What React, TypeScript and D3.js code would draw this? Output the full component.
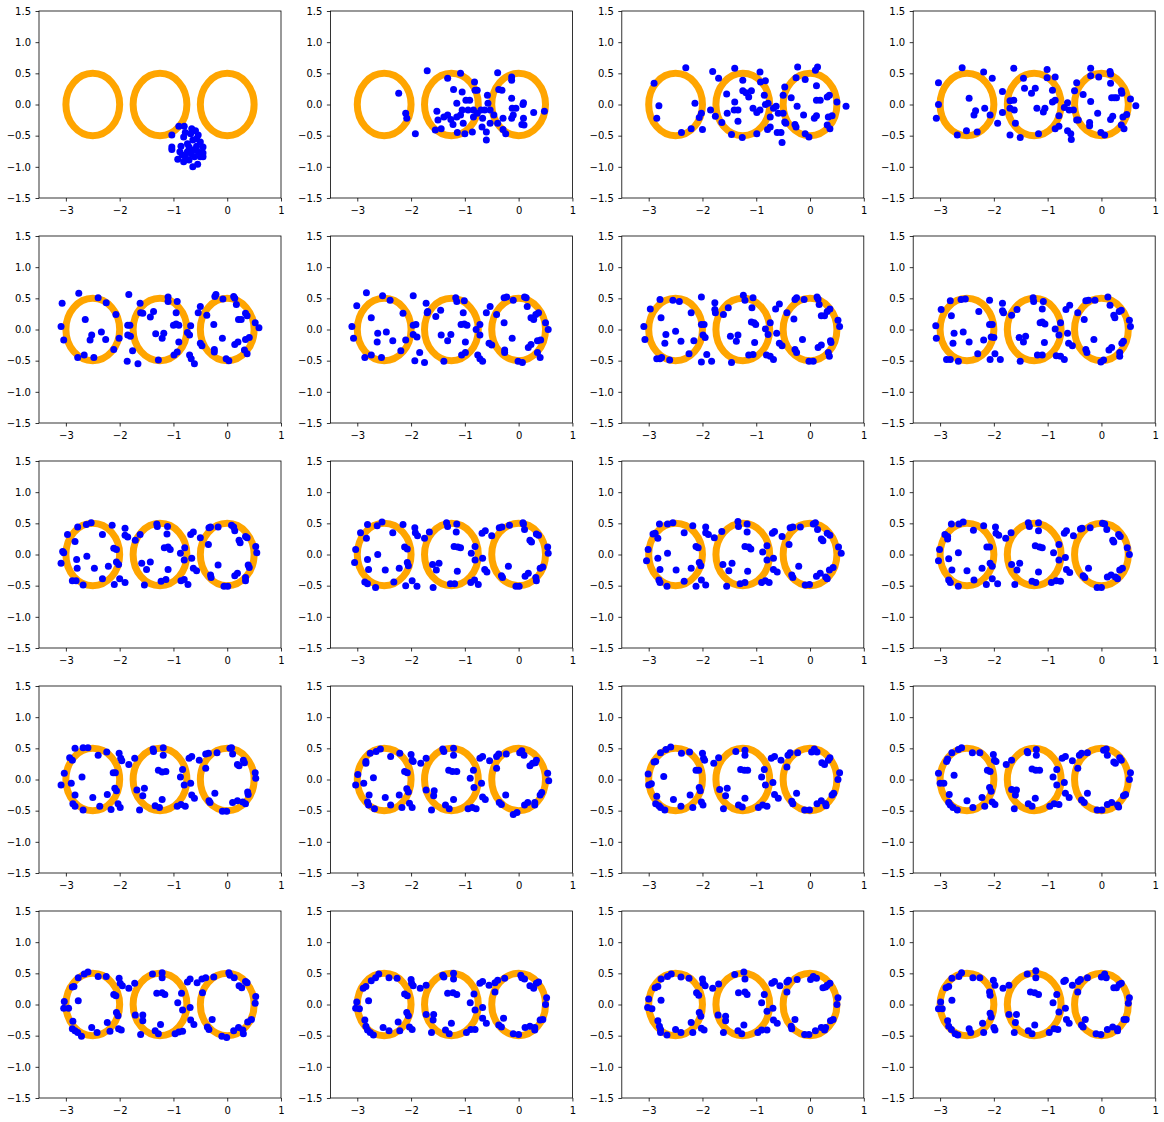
import { useEffect, useRef } from "react";
import * as d3 from "d3";

type Pt = [number, number];

// three target rings (orange) and tick values
const ringCenters = [-2.5, -1.25, 0];
const ringRadius = 0.5;
const xTicks = [-3, -2, -1, 0, 1];
const yTicks = [-1.5, -1.0, -0.5, 0.0, 0.5, 1.0, 1.5];

// blue points, one array per panel
const step01: Pt[] = [
    [-1.03, -0.49], [-1.03, -0.68], [-1.03, -0.72], [-0.9, -0.35], [-0.8, -0.35], [-0.66, -0.39], [-0.59, -0.42],
    [-0.54, -0.49], [-0.81, -0.52], [-0.74, -0.63], [-0.86, -0.67], [-0.64, -0.57], [-0.5, -0.6], [-0.45, -0.68],
    [-0.45, -0.78], [-0.45, -0.84], [-0.54, -0.76], [-0.64, -0.73], [-0.74, -0.76], [-0.84, -0.81], [-0.92, -0.88],
    [-0.81, -0.92], [-0.71, -0.89], [-0.64, -1.0], [-0.55, -0.96], [-0.61, -0.84], [-0.71, -0.68], [-0.57, -0.67],
    [-0.78, -0.45], [-0.68, -0.47], [-0.57, -0.55], [-0.88, -0.76], [-0.78, -0.84], [-0.5, -0.84], [-0.67, -0.79],
];
const step02: Pt[] = [
    [-1.7, 0.54], [-2.23, 0.18], [-2.1, -0.14], [-2.08, -0.22], [-1.92, -0.47], [-1.32, 0.42], [-1.08, 0.5],
    [-1.21, 0.24], [-1.52, -0.11], [-1.5, -0.25], [-1.55, -0.41], [-1.44, -0.39], [-1.39, -0.2], [-1.32, -0.17],
    [-1.26, -0.24], [-1.22, -0.32], [-1.15, -0.2], [-1.15, 0.02], [-1.05, 0.2], [-1.05, -0.09], [-1.08, -0.17],
    [-1.03, -0.3], [-1.14, -0.45], [-1.0, -0.47], [-0.86, -0.44], [-0.98, 0.07], [-0.91, 0.07], [-0.82, 0.36],
    [-0.81, 0.23], [-0.77, 0.23], [-0.94, -0.09], [-0.84, -0.09], [-0.84, -0.2], [-0.77, -0.14], [-0.7, -0.09],
    [-0.63, -0.09], [-0.67, -0.22], [-0.68, -0.36], [-0.6, -0.44], [-0.6, -0.57], [-0.58, 0.15], [-0.57, 0.02],
    [-0.53, -0.09], [-0.46, -0.17], [-0.53, -0.3], [-0.39, -0.3], [-0.39, 0.51], [-0.37, 0.24], [-0.31, 0.23],
    [-0.29, -0.22], [-0.29, -0.4], [-0.24, -0.47], [-0.13, 0.44], [-0.13, 0.39], [-0.13, 0.1], [-0.12, -0.06],
    [-0.05, -0.06], [-0.13, -0.22], [-0.1, -0.17], [0.08, 0.0], [0.09, 0.03], [0.09, -0.22], [0.06, -0.32],
    [0.1, -0.33], [0.28, -0.13], [0.48, -0.11],
];
const step03: Pt[] = [
    [-2.9, 0.34], [-2.81, -0.02], [-2.85, -0.22], [-2.31, 0.59], [-2.39, -0.45], [-2.21, -0.39], [-2.14, 0.02],
    [-2.06, -0.21], [-2.02, -0.14], [-2.0, -0.4], [-1.85, -0.09], [-1.81, 0.53], [-1.76, -0.19], [-1.7, 0.42],
    [-1.64, -0.29], [-1.55, 0.17], [-1.54, -0.14], [-1.46, -0.48], [-1.4, 0.58], [-1.4, 0.04], [-1.41, -0.09],
    [-1.34, -0.09], [-1.34, -0.27], [-1.26, -0.53], [-1.25, 0.39], [-1.25, 0.22], [-1.19, 0.19], [-1.14, 0.12],
    [-1.09, 0.22], [-1.06, -0.06], [-0.99, -0.13], [-0.99, -0.47], [-0.93, 0.52], [-0.92, 0.36], [-0.83, 0.38],
    [-0.93, -0.09], [-0.85, 0.15], [-0.83, 0.0], [-0.78, 0.02], [-0.74, -0.2], [-0.79, -0.4], [-0.74, -0.36],
    [-0.68, -0.06], [-0.63, -0.03], [-0.59, -0.14], [-0.61, -0.45], [-0.54, -0.45], [-0.52, -0.61], [-0.5, 0.15],
    [-0.47, 0.28], [-0.5, -0.14], [-0.47, -0.28], [-0.45, -0.3], [-0.35, 0.11], [-0.26, 0.43], [-0.24, -0.03],
    [-0.28, -0.32], [-0.26, -0.36], [-0.23, 0.6], [-0.09, 0.4], [-0.12, -0.17], [-0.09, -0.47], [-0.02, -0.52],
    [0.08, -0.22], [0.12, -0.18], [0.12, 0.3], [0.1, 0.55], [0.14, 0.6], [0.12, 0.07], [0.19, 0.07], [0.32, 0.12],
    [0.36, 0.15], [0.34, -0.2], [0.41, -0.18], [0.32, -0.33], [0.37, -0.39], [0.5, 0.04], [0.67, -0.03],
];
const step04: Pt[] = [
    [-3.07, -0.22], [-3.03, 0.35], [-3.03, 0.0], [-2.68, -0.49], [-2.59, 0.59], [-2.51, -0.42], [-2.46, 0.1],
    [-2.37, -0.17], [-2.34, -0.1], [-2.31, -0.44], [-2.19, 0.52], [-2.17, -0.06], [-2.07, -0.17], [-2.03, 0.42],
    [-1.93, -0.3], [-1.84, 0.21], [-1.84, -0.13], [-1.7, -0.49], [-1.7, 0.06], [-1.63, 0.07], [-1.7, -0.06],
    [-1.62, -0.09], [-1.63, 0.58], [-1.6, -0.3], [-1.51, -0.53], [-1.45, 0.42], [-1.43, 0.26], [-1.3, 0.18],
    [-1.23, 0.26], [-1.2, -0.06], [-1.17, -0.47], [-1.08, -0.12], [-1.05, -0.06], [-1.01, 0.56], [-1.01, 0.43],
    [-0.91, 0.23], [-0.91, 0.04], [-0.86, 0.07], [-0.86, 0.44], [-0.86, -0.39], [-0.79, -0.35], [-0.79, -0.18],
    [-0.69, -0.05], [-0.63, 0.03], [-0.6, -0.09], [-0.63, -0.42], [-0.57, -0.47], [-0.56, -0.56], [-0.52, -0.09],
    [-0.5, 0.22], [-0.46, 0.35], [-0.46, -0.25], [-0.43, -0.25], [-0.34, 0.16], [-0.22, -0.34], [-0.22, -0.29],
    [-0.2, 0.46], [-0.2, 0.58], [-0.2, 0.05], [-0.07, -0.14], [-0.05, 0.44], [-0.01, -0.45], [0.06, -0.49],
    [0.16, 0.53], [0.17, 0.49], [0.17, 0.34], [0.19, 0.11], [0.24, 0.11], [0.28, 0.11], [0.17, -0.24],
    [0.21, -0.19], [0.37, 0.22], [0.38, 0.18], [0.37, -0.33], [0.42, -0.39], [0.4, -0.2], [0.47, -0.16],
    [0.54, 0.09], [0.64, -0.02],
];
const step05: Pt[] = [
    [-3.07, 0.42], [-3.09, 0.05], [-3.04, -0.17], [-2.76, 0.58], [-2.78, -0.45], [-2.66, -0.41], [-2.64, 0.16],
    [-2.55, -0.17], [-2.52, -0.09], [-2.48, -0.45], [-2.4, 0.51], [-2.34, -0.04], [-2.26, -0.16], [-2.25, 0.43],
    [-2.11, -0.32], [-2.07, 0.24], [-2.01, -0.14], [-1.86, -0.51], [-1.85, 0.07], [-1.81, 0.07], [-1.85, -0.09],
    [-1.8, -0.11], [-1.83, 0.56], [-1.76, -0.34], [-1.66, -0.55], [-1.62, 0.42], [-1.61, 0.27], [-1.57, 0.26],
    [-1.43, 0.2], [-1.37, 0.29], [-1.33, -0.07], [-1.28, -0.49], [-1.21, -0.14], [-1.18, -0.06], [-1.1, 0.52],
    [-1.1, 0.45], [-1.0, 0.07], [-0.95, 0.09], [-0.9, 0.07], [-0.95, 0.27], [-0.93, 0.45], [-0.99, -0.41],
    [-0.93, -0.36], [-0.9, -0.2], [-0.74, -0.05], [-0.7, -0.09], [-0.68, 0.06], [-0.7, -0.41], [-0.67, -0.47],
    [-0.61, -0.55], [-0.54, 0.27], [-0.5, 0.37], [-0.5, -0.22], [-0.47, -0.26], [-0.38, 0.23], [-0.25, 0.08],
    [-0.24, -0.32], [-0.24, -0.36], [-0.23, 0.53], [-0.21, 0.56], [-0.09, -0.14], [-0.08, 0.49], [-0.02, -0.47],
    [0.03, -0.5], [0.12, 0.53], [0.14, 0.5], [0.17, 0.4], [0.14, -0.24], [0.2, -0.2], [0.21, 0.16], [0.26, 0.16],
    [0.34, 0.26], [0.37, 0.22], [0.34, -0.16], [0.41, -0.13], [0.32, -0.33], [0.37, -0.39], [0.52, 0.11],
    [0.59, 0.03],
];
const step06: Pt[] = [
    [-3.1, 0.05], [-3.07, -0.14], [-3.01, 0.38], [-2.86, -0.45], [-2.83, 0.59], [-2.74, 0.19], [-2.74, -0.41],
    [-2.63, -0.2], [-2.62, -0.06], [-2.55, -0.45], [-2.53, 0.54], [-2.46, -0.04], [-2.39, 0.47], [-2.34, -0.18],
    [-2.19, -0.34], [-2.15, 0.26], [-2.1, -0.17], [-1.96, 0.54], [-1.96, 0.07], [-1.91, 0.08], [-1.96, -0.08],
    [-1.89, -0.12], [-1.93, -0.5], [-1.84, -0.37], [-1.75, -0.53], [-1.72, 0.42], [-1.7, 0.27], [-1.69, 0.29],
    [-1.54, 0.21], [-1.45, 0.31], [-1.44, -0.09], [-1.39, -0.51], [-1.32, -0.18], [-1.26, -0.08], [-1.17, 0.51],
    [-1.15, 0.45], [-1.07, 0.08], [-1.01, 0.09], [-0.96, 0.07], [-1.03, 0.27], [-1.01, 0.46], [-1.06, -0.41],
    [-0.99, -0.37], [-0.99, -0.2], [-0.79, 0.0], [-0.72, 0.08], [-0.72, -0.09], [-0.76, -0.41], [-0.72, -0.47],
    [-0.67, -0.51], [-0.6, 0.27], [-0.53, 0.37], [-0.55, -0.22], [-0.5, -0.25], [-0.41, 0.24], [-0.27, 0.11],
    [-0.26, -0.33], [-0.26, -0.37], [-0.27, 0.51], [-0.22, 0.52], [-0.12, -0.14], [-0.1, 0.47], [-0.01, -0.51],
    [0.07, -0.53], [0.11, 0.52], [0.14, 0.51], [0.16, 0.37], [0.18, -0.29], [0.23, -0.24], [0.23, 0.19],
    [0.28, 0.16], [0.32, 0.24], [0.37, 0.27], [0.35, -0.18], [0.41, -0.17], [0.35, -0.37], [0.4, -0.45],
    [0.5, 0.11], [0.55, 0.0],
];
const step07: Pt[] = [
    [-3.09, 0.05], [-3.07, -0.16], [-2.97, 0.33], [-2.85, -0.47], [-2.79, -0.47], [-2.76, -0.45], [-2.79, 0.48],
    [-2.77, 0.19], [-2.7, -0.22], [-2.68, -0.08], [-2.61, -0.49], [-2.55, 0.47], [-2.5, -0.03], [-2.43, 0.45],
    [-2.4, -0.19], [-2.25, -0.39], [-2.21, 0.27], [-2.16, -0.18], [-2.02, 0.52], [-2.02, 0.08], [-1.97, 0.08],
    [-2.02, -0.52], [-1.99, -0.09], [-1.95, -0.13], [-1.92, -0.4], [-1.83, -0.51], [-1.77, 0.43], [-1.77, 0.32],
    [-1.76, 0.27], [-1.61, 0.24], [-1.52, 0.35], [-1.48, -0.11], [-1.46, -0.53], [-1.37, -0.19], [-1.34, -0.09],
    [-1.24, 0.55], [-1.21, 0.47], [-1.09, 0.12], [-1.04, 0.11], [-1.01, 0.08], [-1.08, 0.35], [-1.06, 0.51],
    [-1.14, -0.41], [-1.06, -0.4], [-1.03, -0.21], [-0.83, 0.01], [-0.74, 0.11], [-0.78, -0.08], [-0.81, -0.41],
    [-0.74, -0.43], [-0.68, -0.48], [-0.64, 0.33], [-0.57, 0.41], [-0.62, -0.06], [-0.57, -0.22], [-0.52, -0.26],
    [-0.43, 0.27], [-0.3, 0.17], [-0.28, -0.32], [-0.25, -0.37], [-0.28, 0.48], [-0.25, 0.51], [-0.14, -0.16],
    [-0.11, 0.48], [-0.02, -0.51], [0.06, -0.51], [0.13, 0.52], [0.15, 0.49], [0.17, 0.4], [0.15, -0.29],
    [0.21, -0.25], [0.21, 0.22], [0.27, 0.22], [0.32, 0.29], [0.37, 0.33], [0.38, -0.18], [0.39, -0.21],
    [0.34, -0.37], [0.36, -0.43], [0.52, 0.15], [0.55, 0.05],
];
const step08: Pt[] = [
    [-3.08, 0.06], [-3.07, -0.14], [-2.98, 0.32], [-2.88, -0.48], [-2.81, -0.48], [-2.81, 0.46], [-2.79, 0.22],
    [-2.76, -0.22], [-2.74, -0.06], [-2.66, -0.51], [-2.61, 0.48], [-2.53, 0.49], [-2.57, -0.04], [-2.46, -0.2],
    [-2.3, -0.39], [-2.28, 0.29], [-2.19, -0.17], [-2.08, 0.47], [-2.08, 0.08], [-2.03, 0.08], [-2.07, -0.48],
    [-2.05, -0.12], [-2.0, -0.13], [-1.98, -0.39], [-1.88, -0.48], [-1.84, 0.42], [-1.84, 0.3], [-1.82, 0.27],
    [-1.67, 0.23], [-1.57, 0.32], [-1.53, -0.13], [-1.51, -0.51], [-1.45, -0.2], [-1.41, -0.11], [-1.27, 0.51],
    [-1.26, 0.45], [-1.14, 0.11], [-1.1, 0.12], [-1.05, 0.09], [-1.1, 0.33], [-1.08, 0.45], [-1.19, -0.41],
    [-1.1, -0.41], [-1.06, -0.21], [-0.86, 0.01], [-0.76, 0.11], [-0.79, -0.09], [-0.84, -0.42], [-0.76, -0.43],
    [-0.69, -0.48], [-0.63, -0.06], [-0.66, 0.32], [-0.59, 0.39], [-0.61, -0.22], [-0.54, -0.26], [-0.44, 0.27],
    [-0.32, 0.16], [-0.29, -0.32], [-0.27, -0.37], [-0.29, 0.46], [-0.24, 0.47], [-0.14, -0.16], [-0.12, 0.47],
    [-0.01, -0.52], [0.04, -0.49], [0.12, 0.52], [0.16, 0.39], [0.14, -0.33], [0.19, -0.29], [0.23, 0.23],
    [0.25, 0.19], [0.33, 0.29], [0.37, 0.31], [0.38, -0.22], [0.41, -0.19], [0.34, -0.37], [0.34, -0.43],
    [0.52, 0.15], [0.54, 0.05],
];
const step09: Pt[] = [
    [-3.09, -0.14], [-3.04, 0.03], [-3.06, 0.05], [-2.97, 0.32], [-2.88, -0.42], [-2.81, -0.42], [-2.78, 0.44],
    [-2.83, 0.21], [-2.79, -0.22], [-2.8, -0.08], [-2.68, -0.49], [-2.62, 0.48], [-2.53, 0.51], [-2.61, -0.03],
    [-2.47, -0.22], [-2.32, -0.39], [-2.32, 0.32], [-2.21, -0.19], [-2.14, 0.47], [-2.11, 0.1], [-2.06, 0.08],
    [-2.1, -0.48], [-2.06, -0.12], [-2.02, -0.16], [-2.0, -0.39], [-1.9, -0.45], [-1.9, 0.42], [-1.9, 0.31],
    [-1.85, 0.28], [-1.71, 0.23], [-1.62, 0.32], [-1.59, -0.14], [-1.54, -0.49], [-1.5, -0.24], [-1.43, -0.12],
    [-1.31, 0.49], [-1.3, 0.45], [-1.17, 0.11], [-1.1, 0.12], [-1.06, 0.08], [-1.12, 0.33], [-1.11, 0.45],
    [-1.23, -0.43], [-1.14, -0.4], [-1.1, -0.24], [-0.87, 0.02], [-0.79, 0.11], [-0.8, -0.09], [-0.86, -0.42],
    [-0.8, -0.4], [-0.73, -0.48], [-0.66, -0.06], [-0.68, 0.32], [-0.63, 0.36], [-0.63, -0.22], [-0.57, -0.26],
    [-0.5, 0.27], [-0.35, 0.16], [-0.31, -0.33], [-0.3, -0.37], [-0.34, 0.43], [-0.31, 0.44], [-0.17, -0.17],
    [-0.17, 0.44], [-0.06, -0.51], [0.01, -0.51], [0.08, 0.47], [0.12, 0.44], [0.14, 0.38], [0.14, -0.34],
    [0.19, -0.3], [0.22, 0.23], [0.24, 0.19], [0.34, 0.29], [0.37, 0.27], [0.39, -0.17], [0.41, -0.21],
    [0.34, -0.37], [0.34, -0.42], [0.53, 0.13], [0.55, 0.03],
];
const step10: Pt[] = [
    [-3.05, -0.13], [-3.03, 0.08], [-2.94, 0.35], [-2.86, -0.44], [-2.81, -0.47], [-2.81, 0.48], [-2.83, 0.26],
    [-2.79, -0.24], [-2.81, -0.08], [-2.66, -0.53], [-2.63, 0.46], [-2.54, 0.52], [-2.62, 0.0], [-2.48, -0.25],
    [-2.32, -0.44], [-2.34, 0.35], [-2.22, -0.22], [-2.15, 0.48], [-2.12, 0.12], [-2.07, 0.09], [-2.1, -0.5],
    [-2.07, -0.13], [-2.05, -0.18], [-1.98, -0.42], [-1.89, -0.51], [-1.93, 0.43], [-1.92, 0.35], [-1.88, 0.3],
    [-1.75, 0.26], [-1.66, 0.36], [-1.6, -0.16], [-1.59, -0.53], [-1.53, -0.25], [-1.48, -0.14], [-1.34, 0.51],
    [-1.32, 0.45], [-1.2, 0.13], [-1.13, 0.12], [-1.08, 0.11], [-1.16, 0.36], [-1.15, 0.49], [-1.27, -0.47],
    [-1.19, -0.47], [-1.14, -0.27], [-0.88, 0.02], [-0.81, 0.13], [-0.81, -0.09], [-0.89, -0.45], [-0.82, -0.41],
    [-0.75, -0.48], [-0.67, -0.06], [-0.68, 0.34], [-0.62, 0.38], [-0.63, -0.24], [-0.59, -0.28], [-0.5, 0.3],
    [-0.36, 0.43], [-0.31, 0.44], [-0.32, -0.34], [-0.3, -0.37], [-0.19, -0.19], [-0.17, 0.47], [-0.05, -0.51],
    [0.01, -0.51], [0.08, 0.51], [0.09, 0.49], [0.11, 0.4], [0.12, -0.35], [0.18, -0.3], [0.21, 0.23],
    [0.24, 0.2], [0.33, 0.33], [0.37, 0.31], [0.4, -0.22], [0.45, -0.2], [0.32, -0.37], [0.33, -0.42],
    [0.54, 0.12], [0.55, 0.02],
];
const step11: Pt[] = [
    [-3.04, -0.1], [-3.01, 0.08], [-2.92, 0.33], [-2.88, 0.34], [-2.81, -0.41], [-2.79, -0.45], [-2.8, 0.49],
    [-2.83, 0.26], [-2.79, -0.24], [-2.83, -0.06], [-2.66, -0.51], [-2.65, 0.49], [-2.55, 0.51], [-2.65, 0.02],
    [-2.49, -0.25], [-2.34, -0.43], [-2.34, 0.35], [-2.21, -0.22], [-2.18, 0.46], [-2.12, 0.13], [-2.08, 0.11],
    [-2.12, -0.51], [-2.06, -0.13], [-2.03, -0.18], [-2.02, -0.41], [-1.94, -0.49], [-1.94, 0.44], [-1.94, 0.35],
    [-1.89, 0.32], [-1.78, 0.27], [-1.64, 0.37], [-1.62, -0.16], [-1.55, -0.51], [-1.51, -0.26], [-1.45, -0.14],
    [-1.34, 0.53], [-1.33, 0.45], [-1.21, 0.13], [-1.14, 0.12], [-1.1, 0.09], [-1.17, 0.36], [-1.17, 0.49],
    [-1.3, -0.47], [-1.21, -0.45], [-1.16, -0.27], [-0.88, 0.04], [-0.8, 0.14], [-0.8, -0.09], [-0.9, -0.45],
    [-0.83, -0.42], [-0.76, -0.45], [-0.68, -0.06], [-0.7, 0.34], [-0.66, 0.37], [-0.68, -0.24], [-0.61, -0.28],
    [-0.52, 0.29], [-0.39, 0.16], [-0.37, 0.43], [-0.32, 0.44], [-0.34, -0.33], [-0.32, -0.37], [-0.21, -0.19],
    [-0.18, 0.44], [-0.09, -0.49], [-0.01, -0.48], [0.06, 0.49], [0.1, 0.51], [0.14, 0.4], [0.12, -0.35],
    [0.19, -0.3], [0.21, 0.25], [0.24, 0.22], [0.32, 0.34], [0.37, 0.31], [0.36, -0.25], [0.43, -0.21],
    [0.29, -0.36], [0.32, -0.39], [0.53, 0.12], [0.58, 0.02],
];
const step12: Pt[] = [
    [-3.03, -0.1], [-3.01, 0.08], [-2.91, 0.32], [-2.86, 0.29], [-2.84, -0.41], [-2.81, -0.45], [-2.79, 0.49],
    [-2.86, 0.25], [-2.78, -0.25], [-2.84, -0.07], [-2.66, -0.51], [-2.65, 0.49], [-2.57, 0.52], [-2.66, 0.03],
    [-2.5, -0.26], [-2.37, -0.41], [-2.38, 0.39], [-2.22, -0.22], [-2.19, 0.46], [-2.13, 0.12], [-2.08, 0.12],
    [-2.14, -0.48], [-2.07, -0.14], [-2.03, -0.19], [-2.03, -0.39], [-1.93, -0.47], [-1.97, 0.44], [-1.96, 0.34],
    [-1.91, 0.31], [-1.78, 0.26], [-1.68, 0.35], [-1.67, -0.16], [-1.61, -0.48], [-1.57, -0.25], [-1.52, -0.14],
    [-1.36, 0.51], [-1.34, 0.45], [-1.23, 0.14], [-1.15, 0.12], [-1.1, 0.11], [-1.17, 0.38], [-1.17, 0.51],
    [-1.29, -0.43], [-1.22, -0.45], [-1.17, -0.28], [-0.89, 0.03], [-0.79, 0.16], [-0.79, -0.09], [-0.93, -0.45],
    [-0.84, -0.42], [-0.76, -0.43], [-0.67, -0.05], [-0.69, 0.34], [-0.65, 0.38], [-0.65, -0.24], [-0.59, -0.29],
    [-0.52, 0.3], [-0.39, 0.41], [-0.36, 0.42], [-0.34, -0.34], [-0.31, -0.37], [-0.24, -0.22], [-0.21, 0.43],
    [-0.08, -0.53], [0.0, -0.53], [0.02, 0.5], [0.06, 0.49], [0.1, 0.4], [0.11, -0.36], [0.18, -0.33],
    [0.21, 0.23], [0.23, 0.2], [0.32, 0.32], [0.35, 0.29], [0.34, -0.25], [0.39, -0.22], [0.26, -0.36],
    [0.3, -0.39], [0.48, 0.11], [0.52, 0.0],
];
const step13: Pt[] = [
    [-3.09, -0.09], [-3.03, 0.1], [-2.93, 0.35], [-2.88, 0.31], [-2.87, -0.39], [-2.83, -0.43], [-2.83, 0.5],
    [-2.9, -0.06], [-2.83, -0.25], [-2.7, 0.04], [-2.68, -0.49], [-2.68, 0.51], [-2.59, 0.51], [-2.5, -0.29],
    [-2.4, 0.39], [-2.37, -0.43], [-2.23, -0.24], [-2.24, 0.44], [-2.16, -0.48], [-2.12, 0.11], [-2.08, 0.11],
    [-2.09, -0.14], [-2.06, -0.18], [-2.03, -0.39], [-1.99, -0.45], [-2.01, 0.42], [-1.98, 0.34], [-1.96, 0.3],
    [-1.83, 0.24], [-1.72, 0.34], [-1.68, -0.17], [-1.63, -0.49], [-1.57, -0.26], [-1.54, -0.14], [-1.38, 0.49],
    [-1.37, 0.45], [-1.28, 0.15], [-1.21, 0.12], [-1.14, 0.13], [-1.19, 0.39], [-1.19, 0.51], [-1.34, -0.42],
    [-1.26, -0.45], [-1.21, -0.32], [-0.93, -0.43], [-0.86, -0.4], [-0.78, -0.43], [-0.87, 0.04], [-0.83, 0.16],
    [-0.8, -0.09], [-0.68, -0.06], [-0.71, 0.34], [-0.66, 0.37], [-0.66, -0.25], [-0.61, -0.3], [-0.52, 0.31],
    [-0.4, 0.18], [-0.4, 0.41], [-0.35, 0.42], [-0.34, -0.34], [-0.32, -0.37], [-0.23, -0.22], [-0.19, 0.43],
    [-0.09, -0.51], [-0.01, -0.51], [0.05, 0.5], [0.08, 0.51], [0.1, 0.41], [0.1, -0.37], [0.19, -0.34],
    [0.19, 0.24], [0.22, 0.22], [0.3, 0.31], [0.32, 0.27], [0.38, -0.2], [0.39, -0.24], [0.29, -0.36],
    [0.34, -0.39], [0.52, 0.11], [0.53, 0.02],
];
const step14: Pt[] = [
    [-3.03, -0.09], [-2.99, 0.08], [-2.84, 0.26], [-2.84, 0.29], [-2.81, -0.36], [-2.79, -0.41], [-2.76, 0.42],
    [-2.88, -0.06], [-2.78, -0.25], [-2.7, 0.03], [-2.68, -0.47], [-2.65, 0.45], [-2.57, 0.49], [-2.48, -0.29],
    [-2.38, 0.37], [-2.38, -0.41], [-2.22, -0.25], [-2.21, 0.42], [-2.17, -0.45], [-2.12, 0.13], [-2.07, 0.11],
    [-2.08, -0.15], [-2.05, -0.2], [-2.03, -0.38], [-1.98, -0.45], [-2.0, 0.4], [-1.98, 0.31], [-1.96, 0.29],
    [-1.82, 0.26], [-1.72, 0.34], [-1.72, -0.17], [-1.62, -0.49], [-1.58, -0.26], [-1.57, -0.18], [-1.41, 0.49],
    [-1.39, 0.45], [-1.3, 0.15], [-1.23, 0.13], [-1.15, 0.13], [-1.21, 0.39], [-1.21, 0.5], [-1.36, -0.41],
    [-1.29, -0.47], [-1.21, -0.32], [-0.94, -0.47], [-0.86, -0.45], [-0.79, -0.47], [-0.9, 0.02], [-0.84, 0.15],
    [-0.83, -0.13], [-0.69, -0.06], [-0.72, 0.34], [-0.67, 0.37], [-0.67, -0.28], [-0.62, -0.32], [-0.54, 0.3],
    [-0.41, 0.18], [-0.41, 0.37], [-0.37, 0.41], [-0.36, -0.37], [-0.32, -0.4], [-0.24, -0.25], [-0.23, 0.41],
    [-0.1, -0.56], [-0.03, -0.53], [0.02, 0.43], [0.06, 0.46], [0.1, 0.39], [0.11, -0.41], [0.17, -0.37],
    [0.21, 0.22], [0.26, 0.26], [0.31, 0.27], [0.33, 0.31], [0.4, -0.25], [0.43, -0.21], [0.3, -0.37],
    [0.3, -0.41], [0.54, 0.1], [0.56, -0.02],
];
const step15: Pt[] = [
    [-3.01, 0.09], [-3.0, -0.09], [-2.95, -0.07], [-2.9, 0.28], [-2.87, 0.29], [-2.87, -0.39], [-2.81, -0.42],
    [-2.78, -0.45], [-2.78, 0.43], [-2.85, -0.27], [-2.72, 0.05], [-2.7, -0.49], [-2.68, 0.48], [-2.59, 0.52],
    [-2.54, -0.32], [-2.39, 0.42], [-2.4, -0.43], [-2.23, -0.25], [-2.24, 0.44], [-2.18, -0.45], [-2.12, 0.15],
    [-2.07, 0.15], [-2.06, -0.13], [-2.04, -0.18], [-2.02, -0.36], [-1.99, -0.41], [-2.0, 0.42], [-1.98, 0.34],
    [-1.96, 0.31], [-1.79, 0.26], [-1.7, 0.35], [-1.68, -0.16], [-1.61, -0.47], [-1.57, -0.26], [-1.54, -0.14],
    [-1.38, 0.45], [-1.29, 0.16], [-1.22, 0.15], [-1.16, 0.15], [-1.21, 0.39], [-1.21, 0.47], [-1.33, -0.41],
    [-1.26, -0.44], [-1.21, -0.3], [-0.96, -0.45], [-0.88, -0.41], [-0.8, -0.43], [-0.9, 0.04], [-0.85, 0.16],
    [-0.83, -0.09], [-0.69, -0.05], [-0.72, 0.34], [-0.66, 0.37], [-0.66, -0.24], [-0.59, -0.3], [-0.54, 0.31],
    [-0.43, 0.2], [-0.41, 0.39], [-0.37, 0.43], [-0.34, -0.35], [-0.32, -0.39], [-0.25, -0.22], [-0.23, 0.43],
    [-0.1, -0.49], [-0.01, -0.49], [0.03, 0.44], [0.08, 0.49], [0.13, 0.44], [0.13, -0.39], [0.21, -0.34],
    [0.22, 0.27], [0.27, 0.24], [0.34, 0.31], [0.37, 0.35], [0.41, -0.25], [0.44, -0.22], [0.29, -0.39],
    [0.3, -0.42], [0.55, 0.11], [0.52, 0.0],
];
const step16: Pt[] = [
    [-3.03, 0.1], [-3.0, -0.06], [-2.93, -0.06], [-2.88, 0.29], [-2.86, 0.33], [-2.84, -0.37], [-2.81, -0.41],
    [-2.76, -0.45], [-2.78, 0.43], [-2.83, -0.24], [-2.74, 0.07], [-2.68, -0.49], [-2.66, 0.48], [-2.6, 0.51],
    [-2.5, -0.34], [-2.4, 0.43], [-2.39, -0.45], [-2.22, -0.29], [-2.26, 0.43], [-2.17, -0.43], [-2.12, 0.15],
    [-2.07, 0.13], [-2.08, -0.13], [-2.05, -0.19], [-2.03, -0.36], [-1.98, -0.4], [-2.01, 0.4], [-1.99, 0.31],
    [-1.96, 0.29], [-1.77, 0.24], [-1.67, 0.31], [-1.67, -0.16], [-1.62, -0.47], [-1.6, -0.25], [-1.58, -0.17],
    [-1.38, 0.45], [-1.37, 0.43], [-1.29, 0.17], [-1.22, 0.15], [-1.15, 0.15], [-1.21, 0.39], [-1.21, 0.48],
    [-1.36, -0.39], [-1.29, -0.43], [-1.23, -0.3], [-0.96, -0.43], [-0.88, -0.39], [-0.79, -0.4], [-0.9, 0.04],
    [-0.83, 0.16], [-0.83, -0.09], [-0.69, -0.05], [-0.73, 0.34], [-0.67, 0.37], [-0.67, -0.22], [-0.6, -0.29],
    [-0.54, 0.3], [-0.44, 0.18], [-0.41, 0.39], [-0.37, 0.42], [-0.37, -0.33], [-0.32, -0.37], [-0.26, -0.22],
    [-0.26, 0.43], [-0.08, -0.49], [0.01, -0.49], [0.04, 0.47], [0.09, 0.49], [0.11, 0.39], [0.11, -0.4],
    [0.19, -0.37], [0.23, 0.28], [0.26, 0.26], [0.34, 0.35], [0.37, 0.31], [0.41, -0.26], [0.45, -0.24],
    [0.3, -0.41], [0.32, -0.44], [0.54, 0.11], [0.52, 0.0],
];
const step17: Pt[] = [
    [-3.03, 0.05], [-3.04, -0.06], [-2.95, -0.06], [-2.88, 0.28], [-2.85, 0.29], [-2.88, -0.39], [-2.83, -0.42],
    [-2.78, -0.45], [-2.77, 0.43], [-2.87, -0.27], [-2.77, 0.06], [-2.71, -0.51], [-2.66, 0.49], [-2.59, 0.52],
    [-2.52, -0.37], [-2.4, 0.45], [-2.42, -0.45], [-2.23, -0.29], [-2.25, 0.45], [-2.18, -0.43], [-2.11, 0.16],
    [-2.07, 0.14], [-2.06, -0.13], [-2.03, -0.18], [-2.02, -0.39], [-1.97, -0.41], [-2.01, 0.42], [-1.99, 0.34],
    [-1.95, 0.3], [-1.83, 0.26], [-1.72, 0.34], [-1.71, -0.17], [-1.61, -0.48], [-1.57, -0.26], [-1.57, -0.17],
    [-1.39, 0.49], [-1.31, 0.18], [-1.21, 0.19], [-1.16, 0.16], [-1.21, 0.43], [-1.21, 0.51], [-1.34, -0.42],
    [-1.28, -0.47], [-1.24, -0.32], [-0.97, -0.47], [-0.9, -0.44], [-0.83, -0.43], [-0.92, 0.03], [-0.85, 0.18],
    [-0.83, -0.09], [-0.69, -0.05], [-0.74, 0.36], [-0.69, 0.41], [-0.68, -0.25], [-0.62, -0.32], [-0.56, 0.35],
    [-0.46, 0.19], [-0.47, 0.41], [-0.4, 0.43], [-0.37, -0.36], [-0.34, -0.4], [-0.28, -0.24], [-0.25, 0.44],
    [-0.1, -0.51], [-0.01, -0.53], [0.03, 0.51], [0.05, 0.47], [0.13, 0.43], [0.12, -0.42], [0.21, -0.37],
    [0.22, 0.3], [0.27, 0.27], [0.34, 0.37], [0.37, 0.35], [0.38, -0.28], [0.45, -0.24], [0.29, -0.41],
    [0.3, -0.47], [0.53, 0.13], [0.52, 0.02],
];
const step18: Pt[] = [
    [-3.01, 0.04], [-3.03, -0.06], [-2.96, -0.07], [-2.89, 0.26], [-2.84, 0.29], [-2.86, -0.25], [-2.84, -0.35],
    [-2.81, -0.41], [-2.76, -0.45], [-2.74, 0.38], [-2.79, 0.06], [-2.7, -0.49], [-2.66, 0.43], [-2.6, 0.49],
    [-2.52, -0.37], [-2.41, 0.43], [-2.41, -0.42], [-2.24, -0.28], [-2.26, 0.42], [-2.21, -0.42], [-2.12, 0.17],
    [-2.07, 0.14], [-2.08, -0.13], [-2.05, -0.18], [-2.03, -0.36], [-1.98, -0.4], [-2.0, 0.4], [-1.99, 0.34],
    [-1.96, 0.3], [-1.83, 0.26], [-1.72, 0.31], [-1.72, -0.16], [-1.62, -0.45], [-1.59, -0.25], [-1.58, -0.16],
    [-1.41, 0.47], [-1.39, 0.44], [-1.32, 0.18], [-1.22, 0.19], [-1.15, 0.16], [-1.21, 0.41], [-1.21, 0.5],
    [-1.36, -0.41], [-1.29, -0.47], [-1.25, -0.3], [-0.97, -0.45], [-0.89, -0.4], [-0.81, -0.4], [-0.9, 0.03],
    [-0.83, 0.17], [-0.81, -0.09], [-0.67, -0.05], [-0.72, 0.34], [-0.67, 0.37], [-0.67, -0.22], [-0.6, -0.3],
    [-0.55, 0.31], [-0.44, 0.2], [-0.44, 0.35], [-0.39, 0.39], [-0.37, -0.33], [-0.32, -0.36], [-0.28, -0.22],
    [-0.26, 0.42], [-0.1, -0.47], [0.0, -0.48], [0.04, 0.47], [0.06, 0.43], [0.11, 0.41], [0.12, -0.37],
    [0.21, -0.35], [0.21, 0.3], [0.28, 0.26], [0.33, 0.34], [0.37, 0.36], [0.4, -0.25], [0.45, -0.24],
    [0.3, -0.41], [0.3, -0.37], [0.52, 0.11], [0.5, 0.0],
];
const step19: Pt[] = [
    [-3.0, 0.09], [-3.02, -0.05], [-2.94, -0.07], [-2.88, 0.27], [-2.83, 0.29], [-2.83, -0.26], [-2.8, -0.35],
    [-2.78, -0.4], [-2.78, -0.45], [-2.77, 0.41], [-2.77, 0.07], [-2.66, -0.49], [-2.65, 0.45], [-2.58, 0.49],
    [-2.5, -0.4], [-2.4, 0.44], [-2.4, -0.45], [-2.21, -0.29], [-2.25, 0.42], [-2.18, -0.45], [-2.11, 0.19],
    [-2.07, 0.15], [-2.06, -0.13], [-2.03, -0.19], [-2.02, -0.38], [-1.97, -0.41], [-2.0, 0.41], [-1.99, 0.34],
    [-1.95, 0.3], [-1.81, 0.26], [-1.7, 0.33], [-1.71, -0.17], [-1.61, -0.45], [-1.57, -0.26], [-1.57, -0.19],
    [-1.4, 0.48], [-1.33, 0.19], [-1.21, 0.2], [-1.17, 0.16], [-1.21, 0.41], [-1.23, 0.52], [-1.34, -0.42],
    [-1.27, -0.47], [-1.23, -0.33], [-0.97, -0.45], [-0.9, -0.41], [-0.8, -0.41], [-0.9, 0.03], [-0.85, 0.16],
    [-0.8, -0.11], [-0.69, -0.06], [-0.71, 0.34], [-0.66, 0.37], [-0.68, -0.25], [-0.61, -0.3], [-0.56, 0.3],
    [-0.43, 0.36], [-0.4, 0.39], [-0.43, 0.2], [-0.35, -0.35], [-0.34, -0.39], [-0.28, -0.24], [-0.24, 0.4],
    [-0.1, -0.48], [-0.02, -0.48], [0.01, 0.4], [0.06, 0.45], [0.12, 0.42], [0.1, -0.42], [0.21, -0.37],
    [0.24, 0.27], [0.29, 0.28], [0.32, 0.31], [0.37, 0.34], [0.38, -0.26], [0.43, -0.24], [0.27, -0.41],
    [0.29, -0.37], [0.52, 0.11], [0.5, 0.0],
];
const step20: Pt[] = [
    [-2.99, 0.04], [-3.03, -0.07], [-2.96, -0.07], [-2.89, 0.27], [-2.84, 0.29], [-2.86, -0.26], [-2.84, -0.35],
    [-2.79, -0.4], [-2.78, 0.42], [-2.78, 0.07], [-2.72, -0.47], [-2.67, -0.49], [-2.65, 0.45], [-2.6, 0.51],
    [-2.46, -0.39], [-2.39, 0.43], [-2.43, -0.45], [-2.21, -0.3], [-2.26, 0.43], [-2.19, -0.45], [-2.08, 0.2],
    [-2.07, 0.15], [-2.07, -0.14], [-2.05, -0.2], [-2.0, -0.37], [-1.98, -0.41], [-2.01, 0.39], [-1.98, 0.31],
    [-1.83, 0.26], [-1.72, 0.31], [-1.72, -0.16], [-1.62, -0.45], [-1.6, -0.29], [-1.58, -0.16], [-1.38, 0.49],
    [-1.32, 0.2], [-1.24, 0.19], [-1.17, 0.16], [-1.22, 0.43], [-1.22, 0.54], [-1.36, -0.42], [-1.29, -0.47],
    [-1.24, -0.33], [-0.97, -0.45], [-0.88, -0.39], [-0.81, -0.4], [-0.9, 0.03], [-0.83, 0.16], [-0.79, -0.12],
    [-0.67, -0.06], [-0.7, 0.37], [-0.67, 0.39], [-0.65, -0.24], [-0.6, -0.3], [-0.54, 0.31], [-0.43, 0.37],
    [-0.39, 0.4], [-0.44, 0.2], [-0.37, -0.33], [-0.34, -0.36], [-0.3, -0.24], [-0.26, 0.43], [-0.1, -0.47],
    [-0.01, -0.48], [0.0, 0.44], [0.06, 0.49], [0.09, 0.43], [0.11, -0.4], [0.21, -0.36], [0.23, 0.27],
    [0.28, 0.27], [0.33, 0.32], [0.37, 0.34], [0.42, -0.24], [0.46, -0.24], [0.3, -0.39], [0.3, -0.42],
    [0.52, 0.11], [0.5, 0.02],
];

const steps = [
    step01, step02, step03, step04, step05, step06, step07, step08, step09, step10,
    step11, step12, step13, step14, step15, step16, step17, step18, step19, step20,
];

const App = () => {
    const svgRef = useRef<SVGSVGElement>(null);

    useEffect(() => {
        if (!svgRef.current) return;
        const svg = d3.select(svgRef.current);
        svg.selectAll("*").remove();

        const width = 1164;
        const height = 1122;
        const panelW = 242;
        const panelH = 187;
        const left0 = 39, colStep = 291.4;
        const top0 = 11, rowStep = 225;

        svg.append("rect").attr("width", width).attr("height", height).attr("fill", "#fff");

        const x = d3.scaleLinear().domain([-3.5, 1]).range([0, panelW]);
        const y = d3.scaleLinear().domain([-1.5, 1.5]).range([panelH, 0]);

        steps.forEach((pts, i) => {
            const g = svg.append("g")
                .attr("transform", `translate(${left0 + (i % 4) * colStep},${top0 + Math.floor(i / 4) * rowStep})`);

            // orange rings
            g.selectAll("ellipse")
                .data(ringCenters)
                .enter()
                .append("ellipse")
                .attr("cx", d => x(d))
                .attr("cy", y(0))
                .attr("rx", d => x(d + ringRadius) - x(d))
                .attr("ry", y(0) - y(ringRadius))
                .attr("fill", "none")
                .attr("stroke", "#FFA500")
                .attr("stroke-width", 7);

            // blue points
            g.selectAll("circle")
                .data(pts)
                .enter()
                .append("circle")
                .attr("cx", d => x(d[0]))
                .attr("cy", d => y(d[1]))
                .attr("r", 3.5)
                .attr("fill", "#0000FF");

            const xAxis = g.append("g")
                .attr("transform", `translate(0,${panelH})`)
                .call(d3.axisBottom(x).tickValues(xTicks).tickSize(3.5).tickPadding(5).tickSizeOuter(0).tickFormat(d3.format("d")));
            const yAxis = g.append("g")
                .call(d3.axisLeft(y).tickValues(yTicks).tickSize(3.5).tickPadding(4.5).tickSizeOuter(0).tickFormat(d3.format(".1f")));

            [xAxis, yAxis].forEach(a => {
                a.select(".domain").remove();
                a.selectAll("line").attr("stroke", "#000").attr("stroke-width", 0.8);
                a.selectAll("text")
                    .attr("fill", "#000")
                    .style("font-family", "'DejaVu Sans', sans-serif")
                    .style("font-size", "10px");
            });

            g.append("rect")
                .attr("width", panelW)
                .attr("height", panelH)
                .attr("fill", "none")
                .attr("stroke", "#000")
                .attr("stroke-width", 0.8);
        });
    }, []);

    return (
        <svg
            ref={svgRef}
            width={1164}
            height={1122}
            style={{ position: "absolute", left: 0, top: 0, display: "block" }}
        />
    );
};

export default App;
